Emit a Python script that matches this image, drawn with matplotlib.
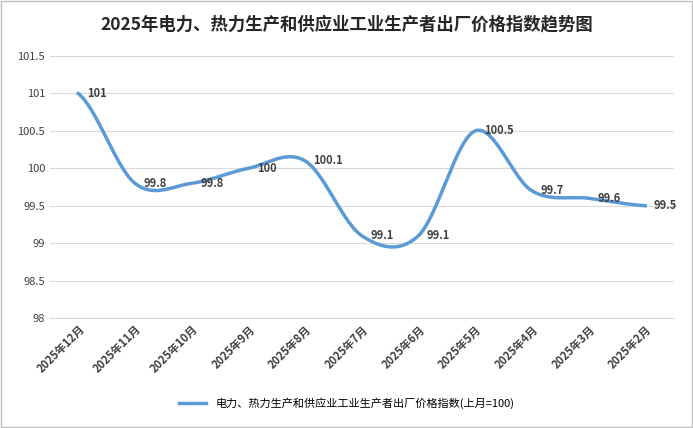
import numpy as np
import matplotlib.pyplot as plt

plt.rcParams['font.family'] = ['Noto Sans CJK SC', 'DejaVu Sans']

months = ['2025年12月', '2025年11月', '2025年10月', '2025年9月', '2025年8月', '2025年7月',
          '2025年6月', '2025年5月', '2025年4月', '2025年3月', '2025年2月']
values = [101, 99.8, 99.8, 100, 100.1, 99.1, 99.1, 100.5, 99.7, 99.6, 99.5]
label_txt = ['101', '99.8', '99.8', '100', '100.1', '99.1', '99.1', '100.5', '99.7', '99.6', '99.5']
series_name = '电力、热力生产和供应业工业生产者出厂价格指数(上月=100)'


def smooth(y, steps=30):
    # Excel-like Catmull-Rom smoothing
    p = np.concatenate([[y[0]], y, [y[-1]]])
    xs, ys = [], []
    for i in range(len(y) - 1):
        p0, p1, p2, p3 = p[i], p[i + 1], p[i + 2], p[i + 3]
        t = np.linspace(0, 1, steps, endpoint=False)
        v = 0.5 * ((2 * p1) + (-p0 + p2) * t + (2 * p0 - 5 * p1 + 4 * p2 - p3) * t ** 2
                   + (-p0 + 3 * p1 - 3 * p2 + p3) * t ** 3)
        xs.append(i + t)
        ys.append(v)
    xs.append([len(y) - 1])
    ys.append([y[-1]])
    return np.concatenate(xs), np.concatenate(ys)


fig = plt.figure(figsize=(6.93, 4.28), dpi=100)
ax = fig.add_axes([0.072, 0.257, 0.90, 0.612])
x = np.arange(len(values))
sx, sy = smooth(np.array(values, dtype=float))
ax.plot(sx, sy, color='#5b9bd5', lw=2.5, label=series_name)
for xi, v, t in zip(x, values, label_txt):
    ax.text(xi + 0.15, v, t, fontsize=8, fontweight='bold', color='#404040', va='center', ha='left')

ax.set_xlim(-0.5, len(values) - 0.5)
ax.set_ylim(98, 101.5)
ax.set_yticks(np.arange(98, 101.6, 0.5))
ax.set_yticklabels(['98', '98.5', '99', '99.5', '100', '100.5', '101', '101.5'], fontsize=8, color='#404040')
ax.set_xticks(x)
ax.set_xticklabels(months, rotation=45, ha='right', rotation_mode='anchor', fontsize=8,
                   fontweight='bold', color='#404040')
ax.grid(axis='y', color='#d9d9d9', lw=0.8)
ax.tick_params(length=0)
for s in ax.spines.values():
    s.set_visible(False)
ax.spines['bottom'].set_visible(True)
ax.spines['bottom'].set_color('#d9d9d9')

fig.suptitle('2025年电力、热力生产和供应业工业生产者出厂价格指数趋势图', y=0.965,
             fontsize=12.5, fontweight='bold', color='#262626')
fig.legend(loc='lower center', bbox_to_anchor=(0.5, 0.02), frameon=False, fontsize=8,
           handlelength=2.5)
fig.patches.append(plt.Rectangle((0.002, 0.002), 0.996, 0.996, transform=fig.transFigure,
                                 fill=False, edgecolor='#bfbfbf', lw=1))
fig.savefig('out.png', dpi=100)
